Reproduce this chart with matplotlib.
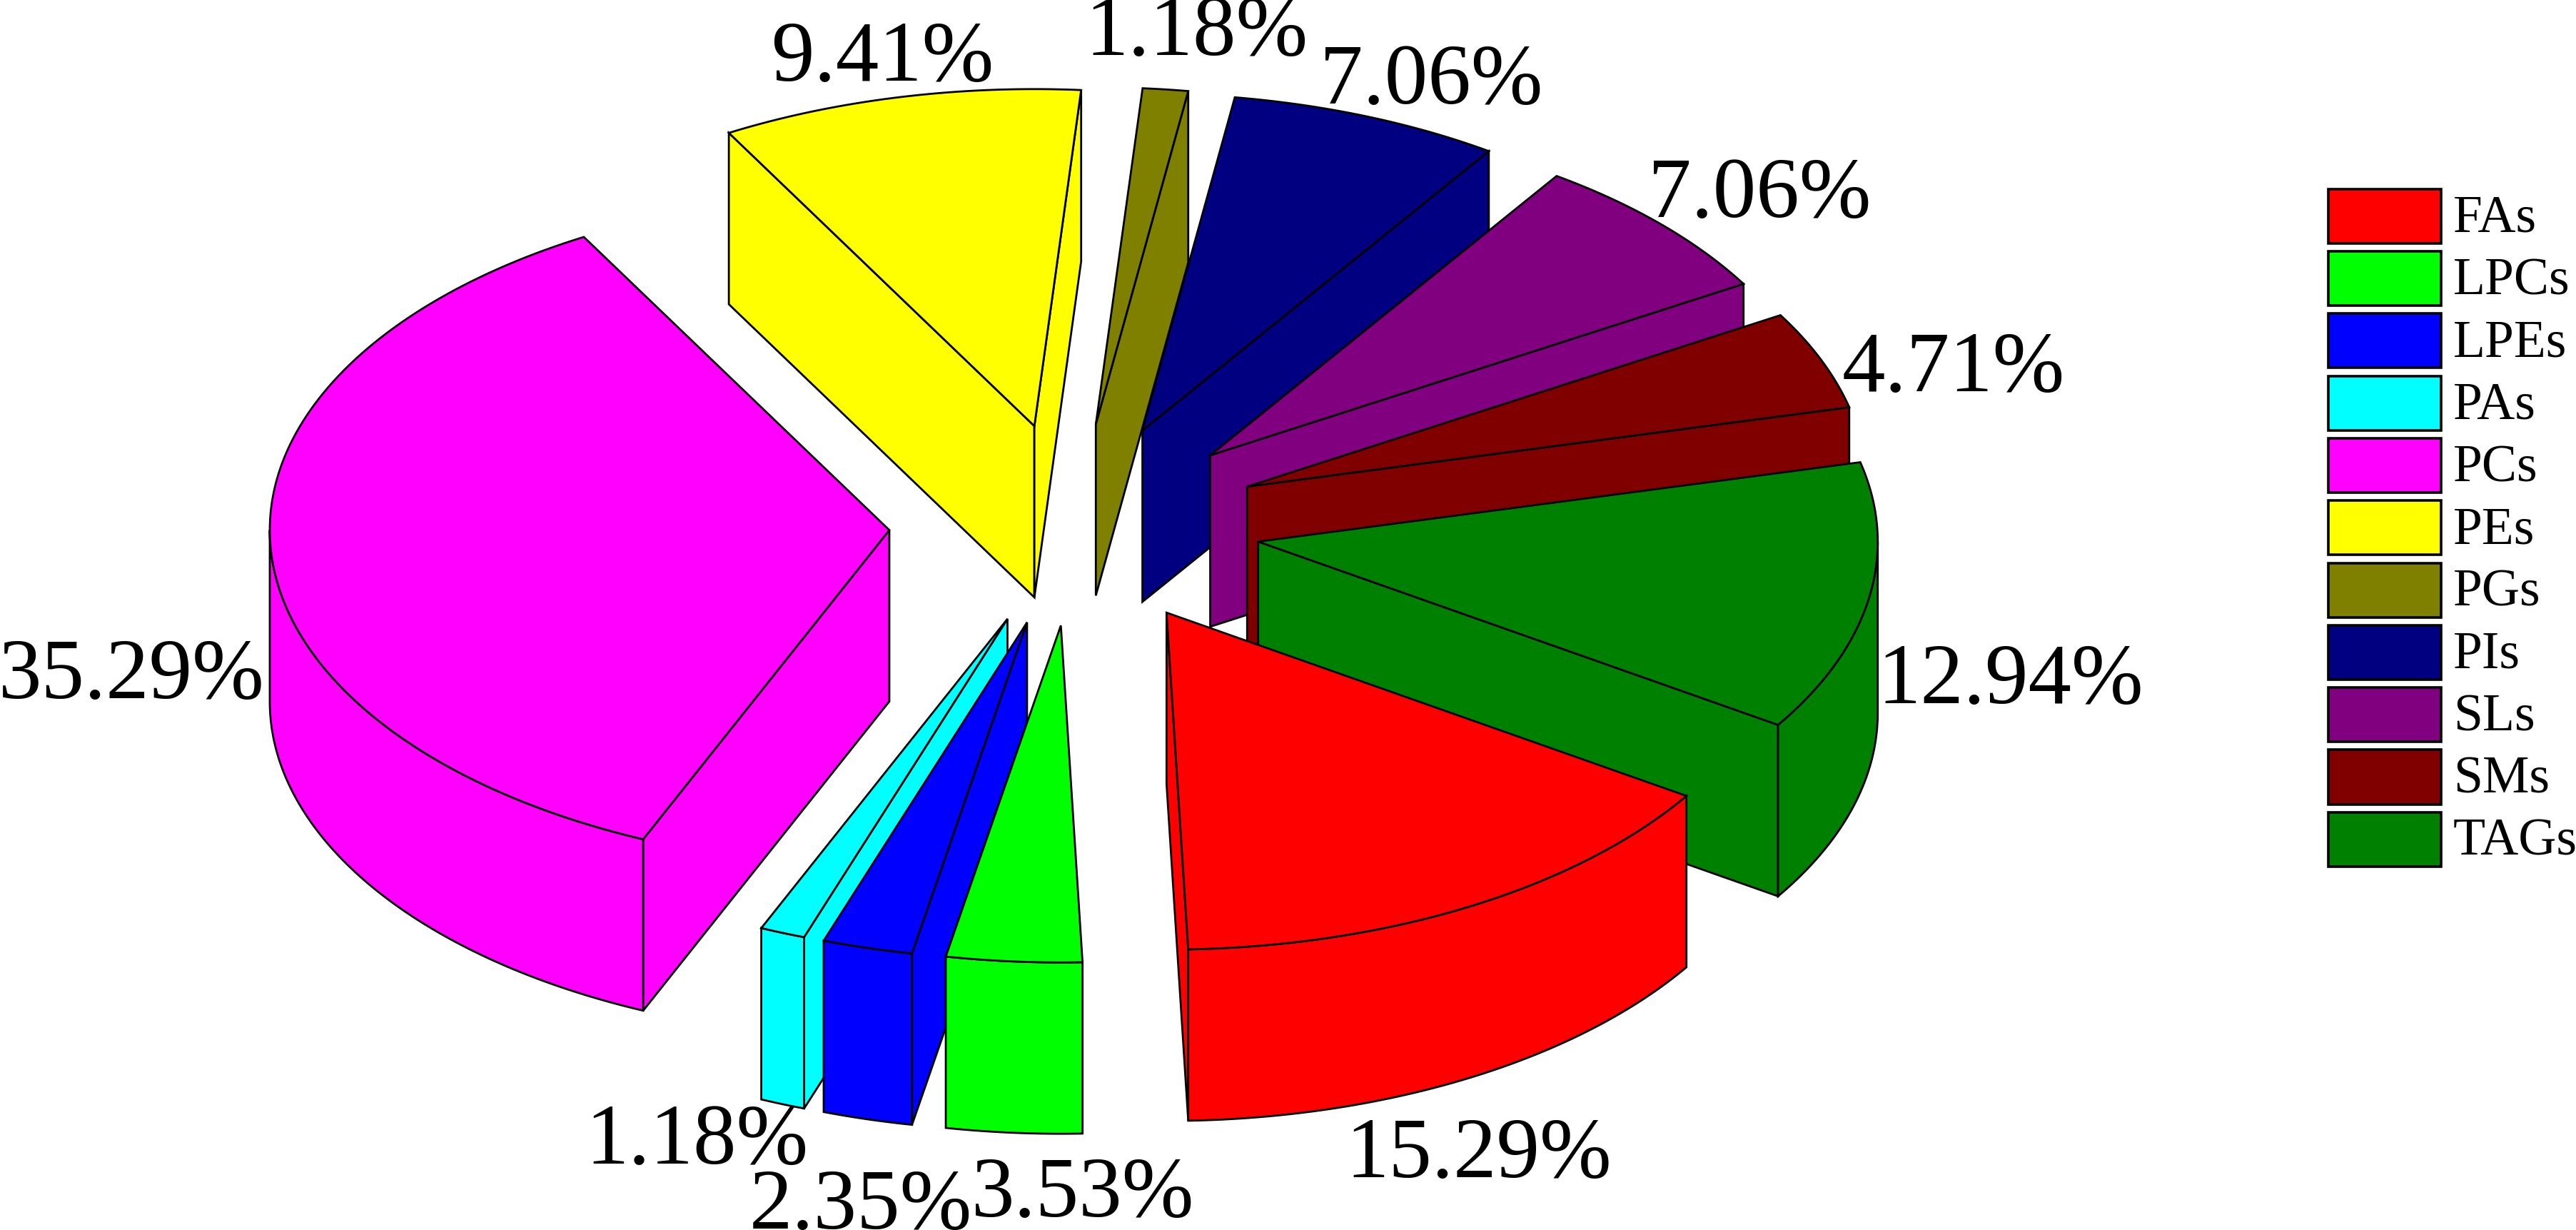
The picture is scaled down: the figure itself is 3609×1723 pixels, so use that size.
import numpy as np
import matplotlib
matplotlib.use("Agg")
import matplotlib.pyplot as plt
from matplotlib.patches import Polygon, Patch, Rectangle
from matplotlib.legend_handler import HandlerPatch

plt.rcParams['font.family'] = ['Liberation Serif', 'DejaVu Serif']

categories = ['FAs', 'LPCs', 'LPEs', 'PAs', 'PCs', 'PEs', 'PGs', 'PIs', 'SLs', 'SMs', 'TAGs']
percentages = [15.29, 3.53, 2.35, 1.18, 35.29, 9.41, 1.18, 7.06, 7.06, 4.71, 12.94]
colors = ['#FF0000', '#00FF00', '#0000FF', '#00FFFF', '#FF00FF', '#FFFF00',
          '#808000', '#000080', '#800080', '#800000', '#008000']

# label anchor points, figure pixels
label_xy = [(2072, 1620), (1517, 1675), (1206, 1692), (976, 1601), (184, 949), (1236, 84),
            (1676, 48), (2005, 116), (2465, 275), (2737, 519), (2817, 956)]

W, H = 3609, 1723
CX, CY = 1506, 735
RX, RY = 868, 472
EXPLODE = 0.30
DEPTH = 240
START = 32.95
LW = 2.0

fig = plt.figure(figsize=(W / 100, H / 100), dpi=100)
ax = fig.add_axes([0, 0, 1, 1])
ax.set_xlim(0, W)
ax.set_ylim(H, 0)
ax.axis('off')


def pt(deg, r=1.0):
    t = np.radians(deg)
    return np.array([RX * r * np.cos(t), RY * r * np.sin(t)])


edges = START + np.concatenate([[0], np.cumsum(percentages)]) / sum(percentages) * 360
down = np.array([0, DEPTH])
wedges = []
for i in range(len(categories)):
    a0, a1 = edges[i], edges[i + 1]
    mid = (a0 + a1) / 2
    wedges.append((np.sin(np.radians(mid)), i, a0, a1, mid))

z = 2
for _, i, a0, a1, mid in sorted(wedges):
    apex = np.array([CX, CY]) + pt(mid, EXPLODE)
    arc = np.array([apex + pt(a) for a in np.linspace(a0, a1, 120)])
    faces = []
    # radial face on the start side, then the end side, when they look to the viewer
    if np.cos(np.radians(a0)) < 0:
        faces.append([apex, arc[0], arc[0] + down, apex + down])
    if np.cos(np.radians(a1)) > 0:
        faces.append([apex, arc[-1], arc[-1] + down, apex + down])
    # curved wall: the part of the rim on the near side
    for lo, hi in ((0, 180), (360, 540)):
        b0, b1 = max(a0, lo), min(a1, hi)
        if b1 > b0:
            rim = np.array([apex + pt(a) for a in np.linspace(b0, b1, 120)])
            faces.append(np.vstack([rim, (rim + down)[::-1]]))
    faces.append(np.vstack([[apex], arc]))
    for f in faces:
        ax.add_patch(Polygon(np.asarray(f), closed=True, facecolor=colors[i], edgecolor='black',
                             linewidth=LW, joinstyle='miter', zorder=z))
        z += 1

for p, (x, y) in zip(percentages, label_xy):
    ax.text(x, y, f'{p:.2f}%', fontsize=87, ha='center', va='center', color='black', zorder=100)


def swatch(legend, orig_handle, xdescent, ydescent, width, height, fontsize):
    # box sits a little lower against its label than the default baseline alignment
    return Rectangle((-xdescent, -ydescent - 2.0), width, height)


handles = [Patch(facecolor=c, edgecolor='black', linewidth=2.6) for c in colors]
leg = ax.legend(handles, categories, loc='upper left',
                bbox_to_anchor=(3262 / W, 1 - 262 / H), bbox_transform=ax.transAxes,
                frameon=False, fontsize=53, borderpad=0, borderaxespad=0,
                handlelength=158 / 73.6, handleheight=1.212, handletextpad=17 / 73.6,
                labelspacing=0.115, labelcolor='black',
                handler_map={Patch: HandlerPatch(patch_func=swatch)})

fig.savefig('out.png', dpi=100, facecolor='white')
